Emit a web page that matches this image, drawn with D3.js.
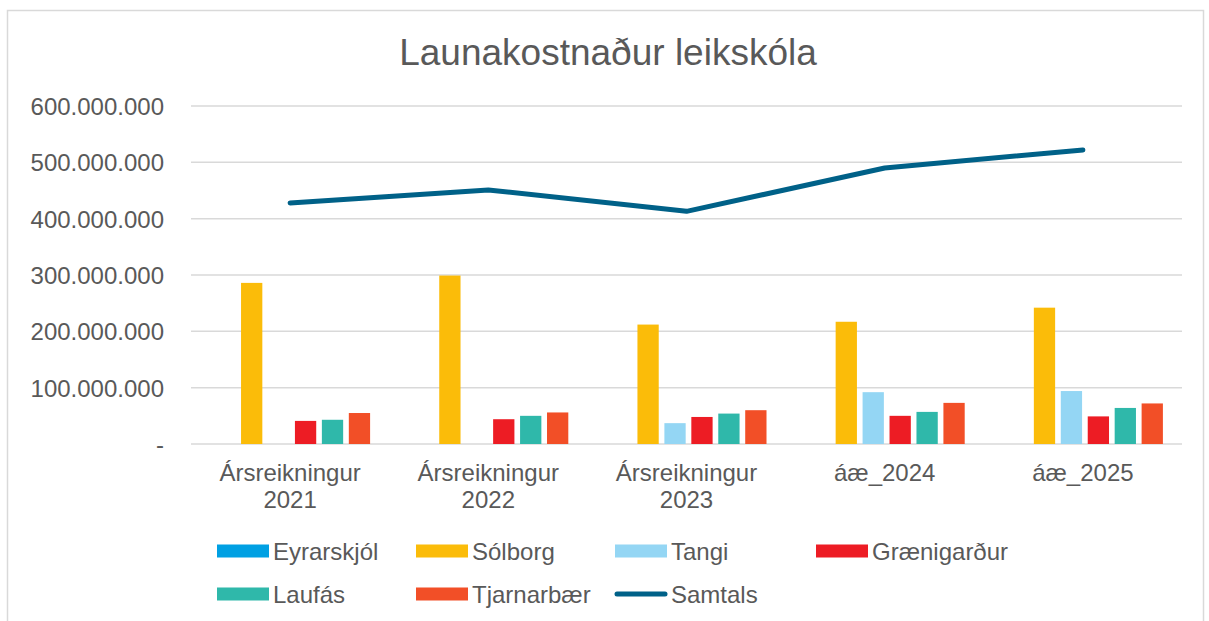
<!DOCTYPE html>
<html>
<head>
<meta charset="utf-8">
<script src="https://cdn.jsdelivr.net/npm/d3@7"></script>
<style>
  body { margin: 0; background: #fff; }
  text { font-family: "Liberation Sans", Arial, sans-serif; fill: #595959; }
</style>
</head>
<body>
<div class="container"></div>
<script>
// chart data
var categories = [["Ársreikningur", "2021"], ["Ársreikningur", "2022"], ["Ársreikningur", "2023"], ["áæ_2024"], ["áæ_2025"]];
var seriesNames = ["Eyrarskjól", "Sólborg", "Tangi", "Grænigarður", "Laufás", "Tjarnarbær"];
var eyrarskjol = [0, 0, 0, 0, 0];
var solborg = [286000000, 299000000, 212000000, 217000000, 242000000];
var tangi = [0, 0, 37000000, 92000000, 94000000];
var graenigardur = [41000000, 44000000, 48000000, 50000000, 49000000];
var laufas = [43000000, 50000000, 54000000, 57000000, 64000000];
var tjarnarbaer = [55000000, 56000000, 60000000, 73000000, 72000000];
var samtals = [428000000, 451000000, 413000000, 490000000, 522000000];
var yTicks = [0, 100000000, 200000000, 300000000, 400000000, 500000000, 600000000];

var colors = ["#00A0E3", "#FBBC09", "#94D6F4", "#ED1C24", "#2FB8AA", "#F24F27"];
var lineColor = "#006188";

var opts = {width: 1209, height: 621, left: 191, right: 1182, top: 106, bottom: 444};

var barSeries = [eyrarskjol, solborg, tangi, graenigardur, laufas, tjarnarbaer];

var svg = d3.select(".container")
  .append("svg")
  .attr("width", opts.width)
  .attr("height", opts.height);

// chart border
svg.append("rect")
  .attr("x", 7.5).attr("y", 10.5)
  .attr("width", 1196).attr("height", 640)
  .attr("fill", "none")
  .attr("stroke", "#d9d9d9")
  .attr("stroke-width", 1.5);

svg.append("text")
  .attr("x", 608).attr("y", 65)
  .attr("text-anchor", "middle")
  .style("font-size", "37px")
  .text("Launakostnaður leikskóla");

var x = d3.scaleBand()
  .domain(d3.range(categories.length))
  .range([opts.left, opts.right]);

var y = d3.scaleLinear()
  .domain([0, 600000000])
  .range([opts.bottom, opts.top]);

var x1 = d3.scaleBand()
  .domain(d3.range(seriesNames.length))
  .range([0, 156])
  .paddingInner(0.21);

var fmt = function(v) {
  if (v === 0) return "-";
  return d3.format(",")(v).replace(/,/g, ".");
};

// gridlines
svg.append("g")
  .selectAll("line")
  .data(yTicks)
  .enter().append("line")
  .attr("x1", opts.left).attr("x2", opts.right)
  .attr("y1", function(d){ return y(d); })
  .attr("y2", function(d){ return y(d); })
  .attr("stroke", "#d9d9d9")
  .attr("stroke-width", 1.5);

// y axis labels
var yAxis = d3.axisLeft(y).tickValues(yTicks).tickFormat(fmt).tickSize(0).tickPadding(0);
var yg = svg.append("g")
  .attr("transform", "translate(" + 164 + ",0)")
  .call(yAxis);
yg.select(".domain").remove();
yg.selectAll("text")
  .style("font-size", "24px")
  .attr("fill", "#595959")
  .attr("dy", "0.36em");

// bars
var groups = svg.append("g")
  .selectAll("g")
  .data(categories)
  .enter().append("g")
  .attr("transform", function(d, i){ return "translate(" + (x(i) + (x.bandwidth() - 156) / 2 + 2) + ",0)"; });

groups.selectAll("rect")
  .data(function(d, i){ return barSeries.map(function(s, k){ return {k: k, v: s[i]}; }); })
  .enter().append("rect")
  .attr("x", function(d){ return x1(d.k); })
  .attr("width", x1.bandwidth())
  .attr("y", function(d){ return y(d.v); })
  .attr("height", function(d){ return opts.bottom - y(d.v); })
  .attr("fill", function(d){ return colors[d.k]; });

// total line
var line = d3.line()
  .x(function(d, i){ return x(i) + x.bandwidth() / 2; })
  .y(function(d){ return y(d); });

svg.append("path")
  .datum(samtals)
  .attr("d", line)
  .attr("fill", "none")
  .attr("stroke", lineColor)
  .attr("stroke-width", 5)
  .attr("stroke-linecap", "round")
  .attr("stroke-linejoin", "round");

// category labels
var xl = svg.append("g")
  .selectAll("text")
  .data(categories)
  .enter().append("text")
  .attr("text-anchor", "middle")
  .style("font-size", "24px")
  .attr("x", function(d, i){ return x(i) + x.bandwidth() / 2; })
  .attr("y", 481);

xl.selectAll("tspan")
  .data(function(d){ return d; })
  .enter().append("tspan")
  .attr("x", function(){ return d3.select(this.parentNode).attr("x"); })
  .attr("dy", function(d, i){ return i === 0 ? 0 : 27; })
  .text(function(d){ return d; });

// legend
var legendItems = seriesNames.map(function(n, k){ return {name: n, color: colors[k], type: "bar"}; });
legendItems.push({name: "Samtals", color: lineColor, type: "line"});
var colX = [217, 416, 615, 816];

var leg = svg.append("g")
  .selectAll("g")
  .data(legendItems)
  .enter().append("g")
  .attr("transform", function(d, i){ return "translate(" + colX[i % 4] + "," + (i < 4 ? 551 : 594) + ")"; });

leg.filter(function(d){ return d.type === "bar"; })
  .append("rect")
  .attr("x", 0).attr("y", -6.5)
  .attr("width", 52).attr("height", 13)
  .attr("fill", function(d){ return d.color; });

leg.filter(function(d){ return d.type === "line"; })
  .append("line")
  .attr("x1", 2).attr("x2", 50)
  .attr("y1", 0).attr("y2", 0)
  .attr("stroke", function(d){ return d.color; })
  .attr("stroke-width", 5)
  .attr("stroke-linecap", "round");

leg.append("text")
  .attr("x", 56).attr("y", 0)
  .attr("dy", "0.36em")
  .style("font-size", "24px")
  .text(function(d){ return d.name; });
</script>
</body>
</html>
